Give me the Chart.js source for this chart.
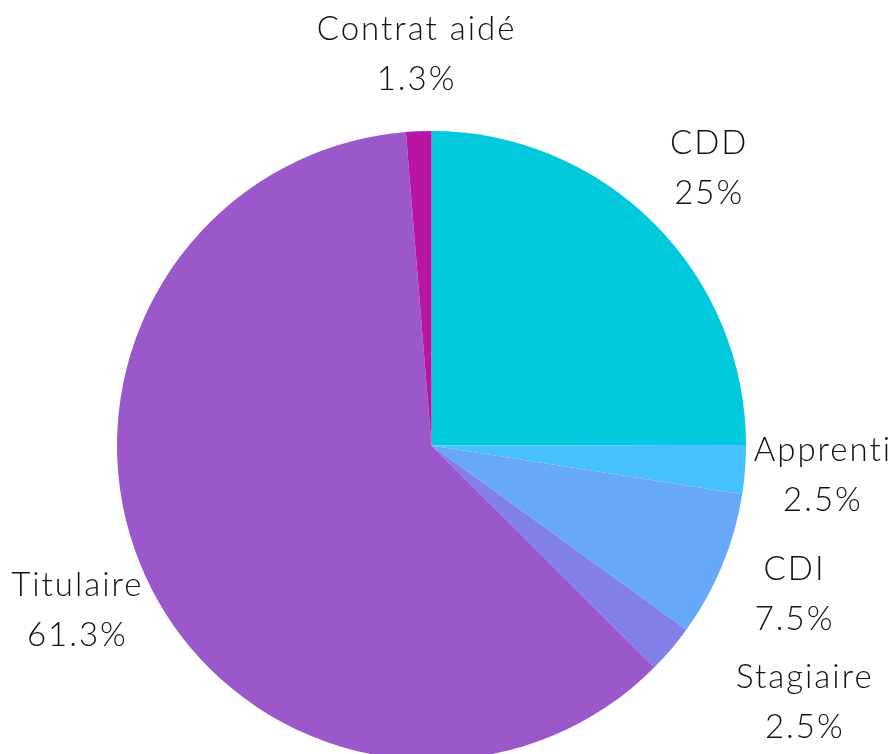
<!DOCTYPE html>
<html>
<head>
<meta charset="utf-8">
<script src="https://cdn.jsdelivr.net/npm/chart.js@4"></script>
<style>
  html, body { margin: 0; padding: 0; background: #fff; overflow: hidden; }
  #wrap { width: 894px; height: 800px; }
</style>
</head>
<body>
<div id="wrap"><canvas id="chart1" width="894" height="800"></canvas></div>
<script>
// data
const categories = ['CDD', 'Apprenti', 'CDI', 'Stagiaire', 'Titulaire', 'Contrat aidé'];
const shares = [25, 2.5, 7.5, 2.5, 61.3, 1.3];
const sliceColors = ['#00C9DB', '#47C1FD', '#67A8F9', '#8080E8', '#9A58CA', '#B815A5'];

// label nudges to avoid overlap (px)
const nudges = { 'Stagiaire': [74, 3] };

const outsideLabels = {
    id: 'outsideLabels',
    afterDraw(chart) {
        const ctx = chart.ctx;
        const meta = chart.getDatasetMeta(0);
        ctx.save();
        ctx.font = '300 33px Lato';
        ctx.letterSpacing = '2px';
        ctx.fillStyle = '#111';
        ctx.textAlign = 'center';
        ctx.textBaseline = 'middle';
        meta.data.forEach(function (arc, i) {
            const mid = (arc.startAngle + arc.endAngle) / 2;
            const r = arc.outerRadius * 1.245;
            let x = arc.x + Math.cos(mid) * r;
            let y = arc.y + Math.sin(mid) * r;
            const n = nudges[categories[i]];
            if (n) { x += n[0]; y += n[1]; }
            ctx.fillText(categories[i], x + 1, y - 25);
            ctx.fillText(shares[i] + '%', x + 1, y + 25);
        });
        ctx.restore();
    }
};

const data = {
    labels: categories,
    datasets: [{
        data: shares,
        backgroundColor: sliceColors,
        borderWidth: 0
    }]
};

const config = {
    type: 'pie',
    data: data,
    options: {
        responsive: false,
        animation: false,
        layout: {
            padding: { left: 117, top: 131, right: 148, bottom: 40 }
        },
        plugins: {
            legend: { display: false },
            tooltip: { enabled: false }
        }
    },
    plugins: [outsideLabels]
};

const chart1 = new Chart(document.getElementById('chart1'), config);
</script>
</body>
</html>
